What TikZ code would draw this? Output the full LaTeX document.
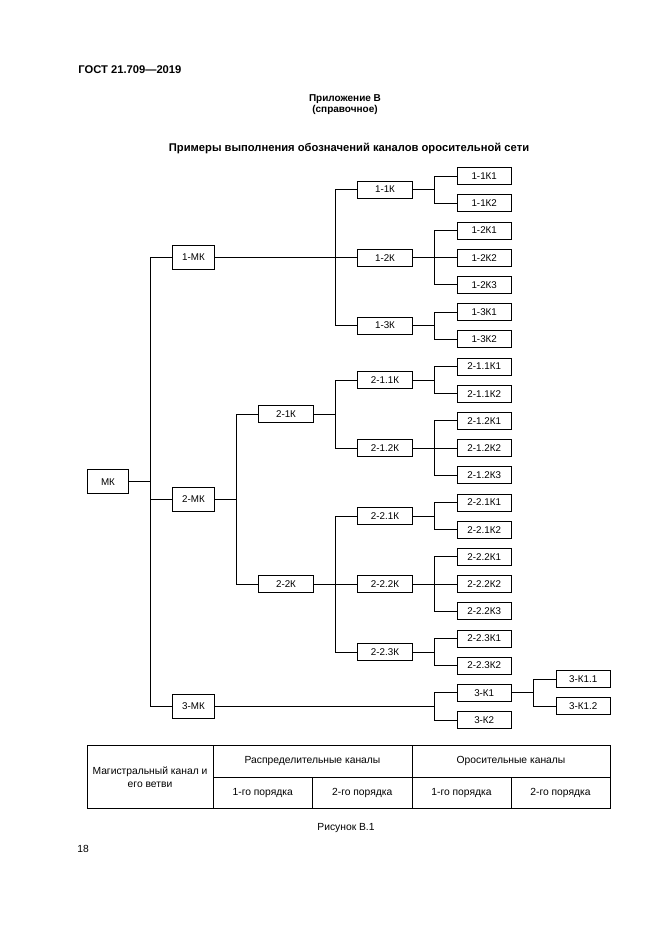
\documentclass[tikz,border=0pt]{standalone}
\usepackage{fontspec}
\setmainfont{Liberation Sans}
\usetikzlibrary{positioning, calc}

\begin{document}
\begin{tikzpicture}[
  x=1pt, y=-1pt,
  line width=0.8pt,
  every node/.style={font=\fontsize{9.8}{12}\selectfont, align=center, inner sep=0pt},
  trunk/.style={draw, minimum width=41.5pt, minimum height=24pt},
  branch/.style={draw, minimum width=54.5pt, minimum height=17pt},
  cell/.style={font=\fontsize{10.3}{12.5}\selectfont},
  celltext/.style={cell, text height=7.5pt, text depth=2.2pt},
  heading/.style={font=\bfseries\fontsize{11.2}{13}\selectfont}
]
\useasboundingbox (0,0) rectangle (661,935);

% page texts
\node[heading, anchor=west] (gost) at (78,70) {ГОСТ 21.709—2019};
\node[heading, font=\bfseries\fontsize{10}{11.5}\selectfont] (annex) at (345,104.5) {Приложение В\\(справочное)};
\node[heading] (title) at (349,148) {Примеры выполнения обозначений каналов оросительной сети};

% main canals
\node[trunk] (mk) at (108,481.8) {МК};
\node[trunk] (m1) at (193.5,257.6) {1-МК};
\node[trunk] (m2) at (193.5,499) {2-МК};
\node[trunk] (m3) at (193.5,706.2) {3-МК};

% distribution canals
\node[branch] (k21) at (286,414) {2-1К};
\node[branch] (k22) at (286,584) {2-2К};
\node[branch] (k11) at (385,189.6) {1-1К};
\node[branch] (k12) at (385,257.6) {1-2К};
\node[branch] (k13) at (385,325.6) {1-3К};
\node[branch] (k211) at (385,380) {2-1.1К};
\node[branch] (k212) at (385,448) {2-1.2К};
\node[branch] (k221) at (385,516) {2-2.1К};
\node[branch] (k222) at (385,584) {2-2.2К};
\node[branch] (k223) at (385,652) {2-2.3К};

% irrigation canals
\node[branch] (o111) at (484.2,176) {1-1К1};
\node[branch] (o112) at (484.2,203.2) {1-1К2};
\node[branch] (o121) at (484.2,230.4) {1-2К1};
\node[branch] (o122) at (484.2,257.6) {1-2К2};
\node[branch] (o123) at (484.2,284.8) {1-2К3};
\node[branch] (o131) at (484.2,312) {1-3К1};
\node[branch] (o132) at (484.2,339.2) {1-3К2};
\node[branch] (o2111) at (484.2,366.4) {2-1.1К1};
\node[branch] (o2112) at (484.2,393.6) {2-1.1К2};
\node[branch] (o2121) at (484.2,420.8) {2-1.2К1};
\node[branch] (o2122) at (484.2,448) {2-1.2К2};
\node[branch] (o2123) at (484.2,475.2) {2-1.2К3};
\node[branch] (o2211) at (484.2,502.4) {2-2.1К1};
\node[branch] (o2212) at (484.2,529.6) {2-2.1К2};
\node[branch] (o2221) at (484.2,556.8) {2-2.2К1};
\node[branch] (o2222) at (484.2,584) {2-2.2К2};
\node[branch] (o2223) at (484.2,611.2) {2-2.2К3};
\node[branch] (o2231) at (484.2,638.4) {2-2.3К1};
\node[branch] (o2232) at (484.2,665.6) {2-2.3К2};
\node[branch] (k31) at (484.2,692.8) {3-К1};
\node[branch] (k32) at (484.2,720) {3-К2};
\node[branch] (o311) at (583.2,679) {3-К1.1};
\node[branch] (o312) at (583.2,706.2) {3-К1.2};

% connectors: first child -- fork -- last child, then parent and middle child
\draw (m1.west) -- ++(-22,0) coordinate (f0) |- (m3.west);
\draw (mk.east) -- (mk.east -| f0);
\draw (f0 |- m2.west) -- (m2.west);

\draw (k11.west) -- ++(-22,0) coordinate (f1) |- (k13.west);
\draw (m1.east) -- (k12.west);
\draw (k21.west) -- ++(-22,0) coordinate (f2) |- (k22.west);
\draw (m2.east) -- (m2.east -| f2);
\draw (k31.west) -- ++(-22,0) coordinate (f3) |- (k32.west);
\draw (m3.east) -- (m3.east -| f3);

\draw (k211.west) -- ++(-22,0) coordinate (f21) |- (k212.west);
\draw (k21.east) -- (k21.east -| f21);
\draw (k221.west) -- ++(-22,0) coordinate (f22) |- (k223.west);
\draw (k22.east) -- (k222.west);

\draw (o111.west) -- ++(-22,0) coordinate (f11) |- (o112.west);
\draw (k11.east) -- (k11.east -| f11);
\draw (o121.west) -- ++(-22,0) coordinate (f12) |- (o123.west);
\draw (k12.east) -- (o122.west);
\draw (o131.west) -- ++(-22,0) coordinate (f13) |- (o132.west);
\draw (k13.east) -- (k13.east -| f13);
\draw (o2111.west) -- ++(-22,0) coordinate (f211) |- (o2112.west);
\draw (k211.east) -- (k211.east -| f211);
\draw (o2121.west) -- ++(-22,0) coordinate (f212) |- (o2123.west);
\draw (k212.east) -- (o2122.west);
\draw (o2211.west) -- ++(-22,0) coordinate (f221) |- (o2212.west);
\draw (k221.east) -- (k221.east -| f221);
\draw (o2221.west) -- ++(-22,0) coordinate (f222) |- (o2223.west);
\draw (k222.east) -- (o2222.west);
\draw (o2231.west) -- ++(-22,0) coordinate (f223) |- (o2232.west);
\draw (k223.east) -- (k223.east -| f223);
\draw (o311.west) -- ++(-22,0) coordinate (f31) |- (o312.west);
\draw (k31.east) -- (k31.east -| f31);

% legend table
\draw (87,745) rectangle (610,808);
\draw (213,745) -- (213,808);
\draw (412,745) -- (412,808);
\draw (213,777) -- (610,777);
\draw (312.5,777) -- (312.5,808);
\draw (511,777) -- (511,808);
\node[cell] (tmain) at (150,777) {Магистральный канал и\\его ветви};
\node[celltext] (tdist) at (312.5,761) {Распределительные каналы};
\node[celltext] (tirr) at (511,761) {Оросительные каналы};
\node[celltext] (td1) at (262.75,792.5) {1-го порядка};
\node[celltext] (td2) at (362.25,792.5) {2-го порядка};
\node[celltext] (ti1) at (461.5,792.5) {1-го порядка};
\node[celltext] (ti2) at (560.5,792.5) {2-го порядка};

\node[celltext] (fig) at (346,828) {Рисунок В.1};
\node[celltext, anchor=west] (page) at (77,850) {18};
\end{tikzpicture}
\end{document}
